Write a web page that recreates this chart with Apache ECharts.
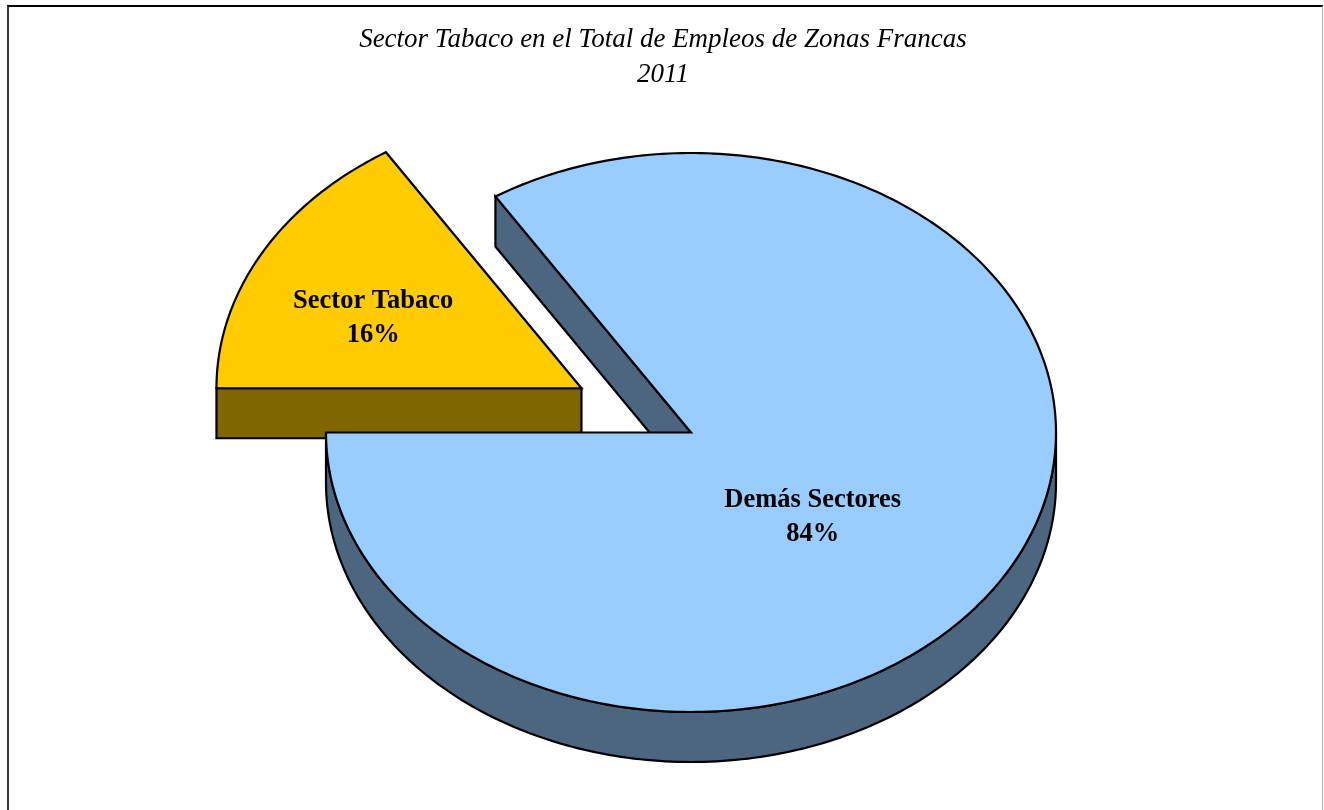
<!DOCTYPE html>
<html>
<head>
<meta charset="utf-8">
<title>Sector Tabaco en el Total de Empleos de Zonas Francas 2011</title>
<script src="https://cdn.jsdelivr.net/npm/echarts@6/dist/echarts.min.js"></script>
<style>
html, body { margin: 0; padding: 0; background: #fff; overflow: hidden; }
#chart { width: 1324px; height: 810px; }
#frame {
  position: absolute; left: 7px; top: 5px; width: 1316px; height: 900px;
  box-sizing: border-box; pointer-events: none;
  border-top: 2px solid #000; border-left: 2px solid #333; border-right: 1px solid #b0b0b0;
}
</style>
</head>
<body>
<div id="chart"></div>
<div id="frame"></div>
<script>
// datos
const sectors = ['Sector Tabaco', 'Demás Sectores']
const shares = [16, 84]

// estilo
const topColors = ['#FFCC00', '#99CCFF']
const sideColors = ['#806600', '#4D6680']
const labelFrac = [0.627, 0.444]
const labelTurn = [4.3, -12.5]
const LABEL_DY = 2.5

// geometria del pastel 3d
const CX = 691, CY = 432.5, RX = 365, RY = 279.5, DEPTH = 50
const START_ANGLE = 180
const EXPLODED = 'Sector Tabaco'
const EXPLODE = 125

function pt(c, a, dy) {
  const r = a * Math.PI / 180
  return [c[0] + RX * Math.cos(r), c[1] - RY * Math.sin(r) + (dy || 0)]
}

function arc(c, from, to, dy) {
  const n = Math.max(2, Math.ceil(Math.abs(to - from)))
  const pts = []
  for (let k = 0; k <= n; k++) pts.push(pt(c, from + (to - from) * k / n, dy))
  return pts
}

function renderSlice(params) {
  const i = params.dataIndex
  const total = shares.reduce((s, v) => s + v, 0)
  let before = 0
  for (let k = 0; k < i; k++) before += shares[k]
  const a0 = START_ANGLE - before / total * 360
  const a1 = a0 - shares[i] / total * 360
  const mid = (a0 + a1) / 2
  const m = mid * Math.PI / 180
  const d = sectors[i] === EXPLODED ? EXPLODE : 0
  const c = [CX + d * Math.cos(m), CY - 0.96 * d * RY / RX * Math.sin(m)]

  const line = { stroke: '#000', lineWidth: 2.2, lineJoin: 'miter' }
  const top = Object.assign({ fill: topColors[i] }, line)
  const side = Object.assign({ fill: sideColors[i] }, line)
  const kids = []

  // caras de corte que miran al observador
  const cuts = [[a0, Math.cos(a0 * Math.PI / 180) < 0], [a1, Math.cos(a1 * Math.PI / 180) > 0]]
  cuts.forEach(([a, show]) => {
    if (!show) return
    const p = pt(c, a)
    kids.push({
      type: 'polygon',
      shape: { points: [c, p, [p[0], p[1] + DEPTH], [c[0], c[1] + DEPTH]] },
      style: side,
    })
  })

  // borde frontal
  for (let k = -2; k <= 2; k++) {
    const lo = Math.max(a1, -180 + 360 * k)
    const hi = Math.min(a0, 360 * k)
    if (hi - lo > 0.01) {
      kids.push({
        type: 'polygon',
        shape: { points: arc(c, hi, lo, 0).concat(arc(c, lo, hi, DEPTH)) },
        style: side,
      })
    }
  }

  // cara superior
  kids.push({ type: 'polygon', shape: { points: [c].concat(arc(c, a0, a1, 0)) }, style: top })

  // etiqueta
  const la = (mid + labelTurn[i]) * Math.PI / 180
  kids.push({
    type: 'text',
    x: c[0] + labelFrac[i] * RX * Math.cos(la),
    y: c[1] - labelFrac[i] * RY * Math.sin(la) + LABEL_DY,
    style: {
      text: sectors[i] + '\n' + Math.round(shares[i] / total * 100) + '%',
      fill: '#000',
      fontFamily: '"Liberation Serif", "Times New Roman", serif',
      fontWeight: 'bold',
      fontSize: 26.5,
      lineHeight: 34,
      align: 'center',
      verticalAlign: 'middle',
    },
  })

  return { type: 'group', children: kids }
}

const chart = echarts.init(document.getElementById('chart'))
chart.setOption({
  animation: false,
  backgroundColor: '#fff',
  title: {
    text: 'Sector Tabaco en el Total de Empleos de Zonas Francas\n2011',
    left: 658,
    top: 17,
    textAlign: 'center',
    textStyle: {
      fontFamily: '"Liberation Serif", "Times New Roman", serif',
      fontStyle: 'italic',
      fontWeight: 'normal',
      fontSize: 27,
      lineHeight: 35.5,
      color: '#000',
    },
  },
  series: [
    {
      type: 'custom',
      coordinateSystem: 'none',
      silent: true,
      renderItem: renderSlice,
      data: shares.map((v, i) => ({ name: sectors[i], value: v })),
    },
  ],
})
</script>
</body>
</html>
